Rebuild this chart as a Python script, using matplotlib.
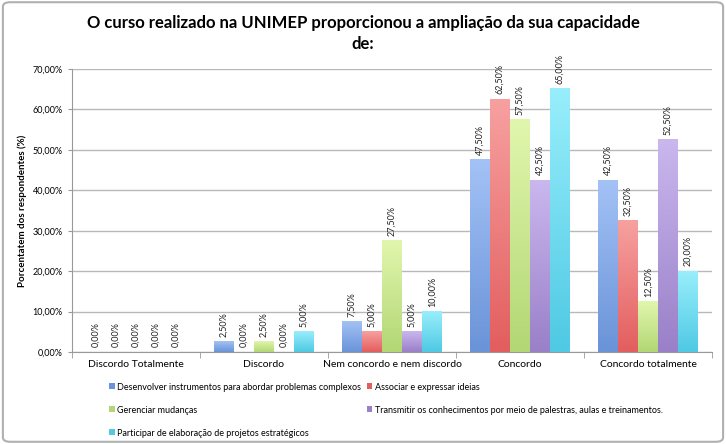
import matplotlib.pyplot as plt
import numpy as np
from matplotlib.patches import FancyBboxPatch, Patch
from matplotlib.colors import LinearSegmentedColormap

plt.rcParams['font.family'] = ['Lato', 'DejaVu Sans']

# categories and series
categories = ['Discordo Totalmente', 'Discordo', 'Nem concordo e nem discordo',
              'Concordo', 'Concordo totalmente']
series_names = ['Desenvolver instrumentos para abordar problemas complexos',
                'Associar e expressar ideias',
                'Gerenciar mudanças',
                'Transmitir os conhecimentos por meio de palestras, aulas e treinamentos.',
                'Participar de elaboração de projetos estratégicos']
desenvolver = [0.0, 2.5, 7.5, 47.5, 42.5]
associar = [0.0, 0.0, 5.0, 62.5, 32.5]
gerenciar = [0.0, 2.5, 27.5, 57.5, 12.5]
transmitir = [0.0, 0.0, 5.0, 42.5, 52.5]
participar = [0.0, 5.0, 10.0, 65.0, 20.0]
yticks = [0, 10, 20, 30, 40, 50, 60, 70]

# (top, bottom) gradient colours for each series
colors = [('#a3c2f6', '#6a93d8'), ('#f7a0a0', '#e35e5e'), ('#e0f6ad', '#b3d774'),
          ('#cab7ee', '#9a80c8'), ('#98eefb', '#4fc9e4')]

fig = plt.figure(figsize=(7.26, 4.44), dpi=100)
ax = fig.add_axes([0.099, 0.207, 0.882, 0.638])

# outer border
fig.patches.append(FancyBboxPatch((0.004, 0.005), 0.992, 0.99, boxstyle='round,pad=0,rounding_size=0.01',
                                  transform=fig.transFigure, fill=False,
                                  edgecolor='#b0b0b0', linewidth=1.5))

x = np.arange(len(categories))
w = 0.156
grad = np.linspace(0, 1, 100).reshape(-1, 1)
all_series = [desenvolver, associar, gerenciar, transmitir, participar]
for i, (vals, (ctop, cbot)) in enumerate(zip(all_series, colors)):
    pos = x + (i - 2) * w
    cmap = LinearSegmentedColormap.from_list('g%d' % i, [cbot, ctop])
    for px, v in zip(pos, vals):
        if v > 0:
            # vertical gradient bar
            ax.imshow(grad, extent=[px - w / 2, px + w / 2, 0, v], origin='lower',
                      aspect='auto', cmap=cmap, zorder=3)
        ax.text(px, v + 1.2, f'{v:.2f}%'.replace('.', ','), rotation=90,
                ha='center', va='bottom', fontsize=6.5, color='#222222')

ax.set_xlim(-0.5, len(categories) - 0.5)
ax.set_ylim(0, 70)
ax.set_yticks(yticks)
ax.set_yticklabels([f'{t:.2f}%'.replace('.', ',') for t in yticks], fontsize=6.5)
ax.set_xticks(x)
ax.set_xticklabels(categories, fontsize=7.5)
ax.set_xticks(np.arange(-0.5, len(categories), 1), minor=True)
ax.tick_params(axis='x', which='major', length=0, pad=6)
ax.tick_params(axis='x', which='minor', length=4, color='#999999')
ax.tick_params(axis='y', length=3, color='#999999')
ax.grid(axis='y', color='#b8b8b8', linewidth=1, zorder=0)
ax.set_axisbelow(True)
ax.spines['top'].set_visible(False)
ax.spines['right'].set_visible(False)
ax.spines['left'].set_color('#999999')
ax.spines['bottom'].set_color('#999999')
ax.set_ylabel('Porcentatem dos respondentes (%)', fontsize=7, fontweight='bold')

fig.text(0.5, 0.925, 'O curso realizado na UNIMEP proporcionou a ampliação da sua capacidade\nde:',
         ha='center', va='center', fontsize=12, fontweight='bold', linespacing=1.35)

# legend, row-major order like the reference
handles = [Patch(facecolor=c[1]) for c in colors]
order = [0, 2, 4, 1, 3]
ax.legend([handles[k] for k in order], [series_names[k] for k in order],
          loc='upper left', bbox_to_anchor=(0.047, -0.082), ncol=2, frameon=False,
          fontsize=6.5, handlelength=0.6, handleheight=0.6, columnspacing=0.6,
          labelspacing=1.55, handletextpad=0.3, borderpad=0.3)

fig.savefig('out.png', dpi=100)
